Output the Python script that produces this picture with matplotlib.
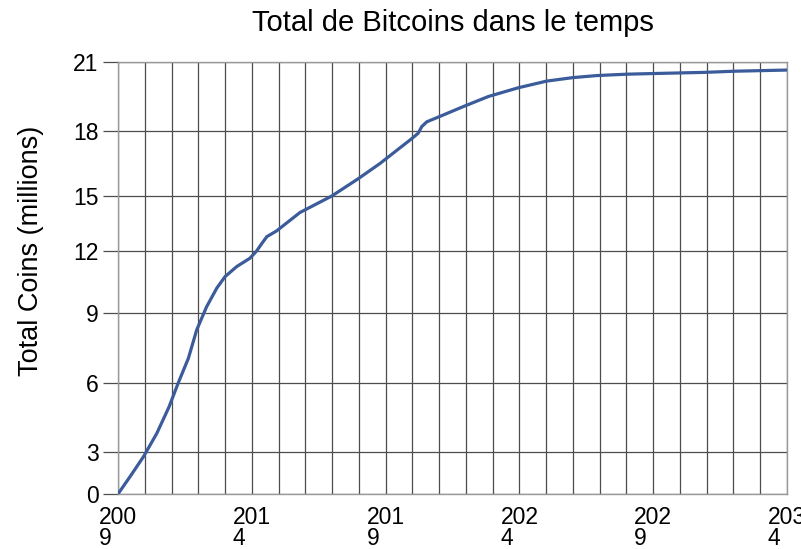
import numpy as np
import matplotlib
matplotlib.use("Agg")
import matplotlib.pyplot as plt

plt.rcParams['font.family'] = ['Liberation Sans', 'DejaVu Sans']

# data (year, millions of coins)
years = [2009.0, 2009.45, 2009.95, 2010.45, 2010.91, 2011.25, 2011.63, 2011.94,
         2012.31, 2012.69, 2013.0, 2013.44, 2013.93, 2014.18, 2014.37, 2014.56,
         2014.93, 2015.8, 2016.99, 2017.98, 2018.79, 2019.41, 2019.97, 2020.22,
         2020.35, 2020.54, 2021.0, 2021.9, 2022.84, 2023.96, 2025.02, 2025.99,
         2026.89, 2028.01, 2029.07, 2030.94, 2032.06, 2034.0]
coins = [0.0, 1.24, 2.66, 3.81, 4.97, 6.0, 7.06, 8.27,
         9.3, 10.2, 10.76, 11.25, 11.65, 12.0, 12.4, 12.78,
         13.1, 14.1, 15.0, 15.8, 16.5, 17.1, 17.64, 17.9,
         18.19, 18.4, 18.62, 19.06, 19.5, 19.88, 20.17, 20.32,
         20.41, 20.47, 20.5, 20.55, 20.6, 20.65]

y_ticks = [0, 3, 6, 9, 12, 15, 18, 21]
x_ticks = [2009, 2014, 2019, 2024, 2029, 2034]
x_labels = ["200\n9", "201\n4", "201\n9", "202\n4", "202\n9", "203\n4"]

# the source chart spaces its y gridlines unevenly; this warp reproduces it
y_warp = [0, 42, 111, 181, 243, 298, 363, 432]

def fwd(v):
    return np.interp(v, y_ticks, y_warp)

def inv(w):
    return np.interp(w, y_warp, y_ticks)

fig = plt.figure(figsize=(8.01, 5.49), dpi=100)
ax = fig.add_axes([118 / 801, 55 / 549, 669 / 801, 432 / 549])

ax.plot(years, coins, color='#3b5b9b', lw=2.3, solid_capstyle='round',
        solid_joinstyle='round', zorder=3)

ax.set_yscale('function', functions=(fwd, inv))
ax.set_xlim(2009, 2034)
ax.set_ylim(0, 21)

ax.set_xticks(np.arange(2009, 2035), minor=True)
ax.set_xticks(x_ticks)
ax.set_xticklabels(x_labels, fontsize=16.5, linespacing=0.88, multialignment='left')
ax.set_yticks(y_ticks)
ax.set_yticklabels([str(v) for v in y_ticks], fontsize=16.5)

ax.grid(True, which='both', axis='x', color='#4d4d4d', lw=0.9)
ax.grid(True, which='major', axis='y', color='#4d4d4d', lw=0.9)

ax.tick_params(axis='x', which='both', length=0, pad=9)
ax.tick_params(axis='y', length=11, width=0.9, color='#4d4d4d', pad=3)
for s in ax.spines.values():
    s.set_color('#999999')
    s.set_linewidth(1.0)

ax.set_title("Total de Bitcoins dans le temps", fontsize=21, pad=22)
ax.set_ylabel("Total Coins (millions)", fontsize=19.5)
ax.yaxis.set_label_coords(-0.111, 0.5625)

fig.savefig("out.png", dpi=100)
